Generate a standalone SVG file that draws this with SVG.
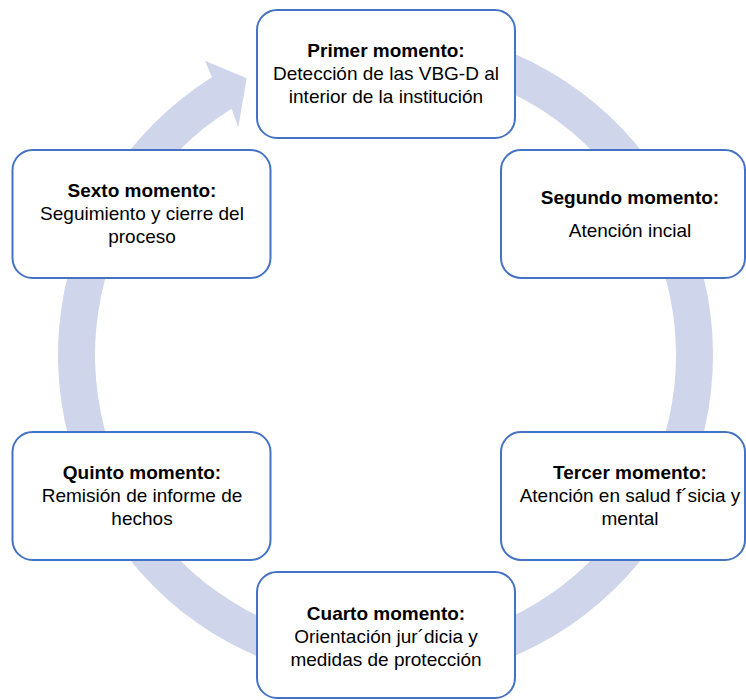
<svg xmlns="http://www.w3.org/2000/svg" width="746" height="700" viewBox="0 0 746 700">
<style>
.box{fill:#FFFFFF;stroke:#4472C4;stroke-width:2}
.t{font-family:"Liberation Sans",Arial,sans-serif;font-size:19px;fill:#000000;text-anchor:middle}
.b{font-weight:bold}
.ring{fill:#CFD5EA;stroke:none}
</style>
<rect width="746" height="700" fill="#FFFFFF"/>
<g id="connectors">
<path class="ring" d="M 442.37 32.47 A 327.5 327.5 0 1 1 211.95 77.26 L 205 60.7 L 246.7 78.3 L 238.3 127.3 L 231.56 108.64 A 290.5 290.5 0 1 0 435.95 68.91 Z"/>
</g>
<g id="node1">
<rect class="box" x="257" y="10" width="258" height="128" rx="20"/>
<text class="t b" x="386" y="57">Primer momento:</text>
<text class="t" x="386" y="80">Detección de las VBG-D al</text>
<text class="t" x="386" y="103">interior de la institución</text>
</g>
<g id="node2">
<rect class="box" x="501" y="150" width="244" height="128" rx="20"/>
<text class="t b" x="630" y="204">Segundo momento:</text>
<text class="t" x="630" y="237">Atención incial</text>
</g>
<g id="node3">
<rect class="box" x="501" y="432" width="244" height="128" rx="20"/>
<text class="t b" x="630" y="479">Tercer momento:</text>
<text class="t" x="630" y="502">Atención en salud f´sicia y</text>
<text class="t" x="630" y="525">mental</text>
</g>
<g id="node4">
<rect class="box" x="257" y="572" width="258" height="126" rx="20"/>
<text class="t b" x="386" y="620">Cuarto momento:</text>
<text class="t" x="386" y="643">Orientación jur´dicia y</text>
<text class="t" x="386" y="666">medidas de protección</text>
</g>
<g id="node5">
<rect class="box" x="12.5" y="432" width="258" height="128" rx="20"/>
<text class="t b" x="142" y="479">Quinto momento:</text>
<text class="t" x="142" y="502">Remisión de informe de</text>
<text class="t" x="142" y="525">hechos</text>
</g>
<g id="node6">
<rect class="box" x="12.5" y="150" width="258" height="128" rx="20"/>
<text class="t b" x="142" y="197">Sexto momento:</text>
<text class="t" x="142" y="220">Seguimiento y cierre del</text>
<text class="t" x="142" y="243">proceso</text>
</g>
</svg>
